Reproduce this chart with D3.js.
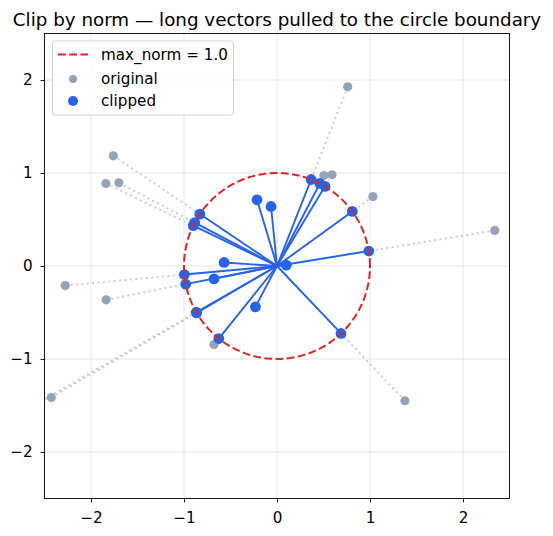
<!DOCTYPE html>
<html>
<head>
<meta charset="utf-8">
<script src="https://cdn.jsdelivr.net/npm/d3@7"></script>
<style>
  body { margin: 0; background: #fff; }
  svg { font-family: "DejaVu Sans", sans-serif; }
</style>
</head>
<body>
<div id="chart"></div>
<script>
// vectors longer than max_norm (before clipping)
var longX = [-1.76, -1.84, -1.70, 0.76, 0.505, 0.591, 1.031, 2.342, -2.277, -1.837, -2.427, -2.90, -0.677, 1.375];
var longY = [1.185, 0.887, 0.895, 1.927, 0.973, 0.981, 0.747, 0.382, -0.21, -0.364, -1.414, -1.66, -0.844, -1.449];
// vectors already inside the circle
var shortX = [-0.215, -0.064, -0.569, 0.10, -0.677, -0.232];
var shortY = [0.712, 0.64, 0.038, 0.01, -0.138, -0.439];
var maxNorm = 1.0;
var ticks = [-2, -1, 0, 1, 2];

var W = 553, H = 536;
var L = 44.5, R = 509.5, T = 33.5, B = 498.5;

var x = d3.scaleLinear().domain([-2.5, 2.5]).range([L, R]);
var y = d3.scaleLinear().domain([-2.5, 2.5]).range([B, T]);

function clip(vx, vy) {
	var n = Math.sqrt(vx * vx + vy * vy);
	var s = n > maxNorm ? maxNorm / n : 1;
	return [vx * s, vy * s];
}

var longs = longX.map(function(v, i) {
	var c = clip(v, longY[i]);
	return {ox: v, oy: longY[i], cx: c[0], cy: c[1]};
});
var shorts = shortX.map(function(v, i) {
	return {cx: v, cy: shortY[i]};
});
var all = longs.concat(shorts);

var svg = d3.select('#chart').append('svg')
	.attr('width', W).attr('height', H);

svg.append('defs').append('clipPath').attr('id', 'plot')
	.append('rect').attr('x', L).attr('y', T).attr('width', R - L).attr('height', B - T);

// grid
var grid = svg.append('g');
ticks.forEach(function(t) {
	grid.append('line').attr('x1', x(t)).attr('x2', x(t)).attr('y1', T).attr('y2', B)
		.attr('stroke', '#b0b0b0').attr('stroke-opacity', 0.35).attr('stroke-width', 0.9);
	grid.append('line').attr('y1', y(t)).attr('y2', y(t)).attr('x1', L).attr('x2', R)
		.attr('stroke', '#b0b0b0').attr('stroke-opacity', 0.35).attr('stroke-width', 0.9);
});

var plot = svg.append('g').attr('clip-path', 'url(#plot)');

// dotted links original -> clipped
plot.append('g').selectAll('line').data(longs).enter().append('line')
	.attr('x1', function(d) { return x(d.ox); })
	.attr('y1', function(d) { return y(d.oy); })
	.attr('x2', function(d) { return x(d.cx); })
	.attr('y2', function(d) { return y(d.cy); })
	.attr('stroke', '#b8c2d0').attr('stroke-opacity', 0.8)
	.attr('stroke-width', 2).attr('stroke-dasharray', '2,3.4');

// original points
plot.append('g').selectAll('circle').data(longs).enter().append('circle')
	.attr('cx', function(d) { return x(d.ox); })
	.attr('cy', function(d) { return y(d.oy); })
	.attr('r', 4.6).attr('fill', '#94a3b8');

// lines from origin to clipped vectors
plot.append('g').selectAll('line').data(all).enter().append('line')
	.attr('x1', x(0)).attr('y1', y(0))
	.attr('x2', function(d) { return x(d.cx); })
	.attr('y2', function(d) { return y(d.cy); })
	.attr('stroke', '#2563eb').attr('stroke-width', 1.9);

plot.append('g').selectAll('circle').data(all).enter().append('circle')
	.attr('cx', function(d) { return x(d.cx); })
	.attr('cy', function(d) { return y(d.cy); })
	.attr('r', 5.4).attr('fill', '#2563eb');

// norm circle
var circ = d3.range(0, 361, 2).map(function(a) {
	var r = a * Math.PI / 180;
	return [maxNorm * Math.cos(r), maxNorm * Math.sin(r)];
});
plot.append('path')
	.attr('d', d3.line().x(function(d) { return x(d[0]); }).y(function(d) { return y(d[1]); })(circ))
	.attr('fill', 'none').attr('stroke', '#dc2626').attr('stroke-width', 2)
	.attr('stroke-dasharray', '7.8,3.4');

// axes
var fmt = function(d) { return d < 0 ? '\u2212' + Math.abs(d) : d; };
var xAxis = svg.append('g').attr('transform', 'translate(0,' + B + ')')
	.call(d3.axisBottom(x).tickValues(ticks).tickFormat(fmt).tickSizeOuter(0).tickSize(3.9).tickPadding(9.5));
var yAxis = svg.append('g').attr('transform', 'translate(' + L + ',0)')
	.call(d3.axisLeft(y).tickValues(ticks).tickFormat(fmt).tickSizeOuter(0).tickSize(3.9).tickPadding(8));
[xAxis, yAxis].forEach(function(a) {
	a.select('.domain').remove();
	a.selectAll('text').attr('font-size', 15.2).attr('font-family', '"DejaVu Sans", sans-serif').attr('fill', '#000');
	a.selectAll('line').attr('stroke', '#000').attr('stroke-width', 0.9);
});

svg.append('rect').attr('x', L).attr('y', T).attr('width', R - L).attr('height', B - T)
	.attr('fill', 'none').attr('stroke', '#000').attr('stroke-width', 0.9);

// title
svg.append('text').attr('x', (L + R) / 2).attr('y', 26).attr('text-anchor', 'middle')
	.attr('font-size', 18.3).attr('fill', '#000')
	.text('Clip by norm \u2014 long vectors pulled to the circle boundary');

// legend
var lg = svg.append('g');
lg.append('rect').attr('x', 52.5).attr('y', 41).attr('width', 181).attr('height', 74).attr('rx', 3)
	.attr('fill', '#fff').attr('fill-opacity', 0.8).attr('stroke', '#d0d0d0').attr('stroke-width', 1);
lg.append('line').attr('x1', 58).attr('x2', 88).attr('y1', 54.5).attr('y2', 54.5)
	.attr('stroke', '#dc2626').attr('stroke-width', 2).attr('stroke-dasharray', '7.8,3.4');
lg.append('circle').attr('cx', 73).attr('cy', 79).attr('r', 4).attr('fill', '#94a3b8');
lg.append('circle').attr('cx', 73).attr('cy', 101).attr('r', 5).attr('fill', '#2563eb');
var labels = ['max_norm = 1.0', 'original', 'clipped'];
var labelY = [54.5, 78.5, 101];
labels.forEach(function(t, i) {
	lg.append('text').attr('x', 101).attr('y', labelY[i]).attr('dy', '0.36em')
		.attr('font-size', 15.2).attr('fill', '#000').text(t);
});
</script>
</body>
</html>
